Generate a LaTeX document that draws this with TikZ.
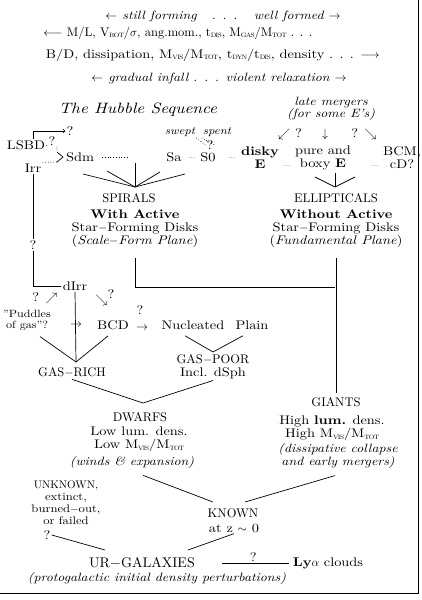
\documentclass[tikz,border=0pt]{standalone}
\usepackage{amsmath}
\usepackage{fontspec}
\usepackage{tikz}
\usetikzlibrary{calc}

\setmainfont{lmroman10}[Extension=.otf, UprightFont=*-regular, BoldFont=*-bold,
  ItalicFont=*-italic, BoldItalicFont=*-bolditalic, FakeStretch=1.15]
\newfontfamily\capsfont{lmroman10}[Extension=.otf, UprightFont=*-regular]
\newcommand{\lo}[1]{\ensuremath{_{\scriptscriptstyle\mathrm{#1}}}}
\tikzset{
  lab/.style={font=\fontsize{12.5}{13}\selectfont, align=center, inner sep=1pt},
  big/.style={font=\capsfont\fontsize{12.5}{12}\selectfont, align=center, inner sep=1pt},
  note/.style={font=\fontsize{12}{12.5}\selectfont\itshape, align=center, inner sep=1pt},
  dots/.style={font=\scriptsize, inner sep=1pt},
}

\begin{document}
\begin{tikzpicture}[x=1pt,y=-1pt,line width=0.7pt]
  \useasboundingbox (0,0) rectangle (421,600);
  \draw (0,593) -- (418,593) -- (418,0);

  % the four lines at the top
  \node[note] (forming) at (223,16) {$\leftarrow$ still forming \ \ . . . \ \ well formed $\rightarrow$};
  \node[lab,anchor=west,font=\capsfont\fontsize{12.5}{12}\selectfont] (props1) at (42,33) {$\longleftarrow$ M/L, V\lo{ROT}/$\sigma$, ang.mom., t\lo{DIS}, M\lo{GAS}/M\lo{TOT} . . .};
  \node[lab,anchor=east] (props2) at (381,55) {B/D, dissipation, M\lo{VIS}/M\lo{TOT}, t\lo{DYN}/t\lo{DIS}, density . . . $\longrightarrow$};
  \node[note] (infall) at (219,78) {$\leftarrow$ gradual infall . . . violent relaxation $\rightarrow$};

  % Hubble sequence
  \node[note,font=\fontsize{15}{15}\selectfont\itshape] (hubble) at (138,110) {The Hubble Sequence};
  \node[note] (late) at (331,109) {late mergers\\(for some E's)};
  \node[lab] (m1) at (290,134) {$\swarrow$ ?};
  \node[lab] (m2) at (325,134) {$\downarrow$};
  \node[lab] (m3) at (364,134) {? $\searrow$};
  \node[note,font=\fontsize{11}{11}\selectfont\itshape] (swept) at (180,132) {swept};
  \node[note,font=\fontsize{11}{11}\selectfont\itshape] (spent) at (217,132) {spent};
  \node[lab] (sq) at (210,145) {?};
  \draw[dotted] (swept.south east) -- (sq.west);
  \draw[dotted] (spent.south west) -- (sq.east);

  \node[lab] (Sdm) at (80,157) {Sdm};
  \node[lab] (Sa) at (174,157) {Sa};
  \node[lab] (S0) at (208,157) {S0};
  \node[lab,font=\fontsize{12.5}{13}\selectfont\bfseries] (disky) at (260,158) {disky\\E};
  \node[lab] (pure) at (323,158) {pure and\\boxy \textbf{E}};
  \node[lab] (bcm) at (402,158) {BCM,\\cD?};
  \draw[dotted,shorten <=7pt,shorten >=38pt] (Sdm) -- (Sa);
  \node[dots] (d1) at (192,158) {...};
  \node[dots] (d2) at (232,158) {...};
  \node[dots] (d3) at (287,166) {...};
  \node[dots] (d4) at (375,166) {...};

  \node[lab] (lsbd) at (26,145) {LSBD};
  \node[lab] (lq) at (52,141) {?};
  \node[lab] (irr) at (33,168) {Irr};
  \node[lab] (tq) at (70,131) {?};
  \coordinate (gt) at (63,157);
  \draw[->] ($(lsbd.north)+(7,0)$) |- (tq.west);
  \draw[dotted] (lsbd.east) -- (lq.south west);
  \draw ($(gt)+(-6,-5)$) -- (gt) -- ($(gt)+(-6,5)$);
  \draw[dotted] (lq.south east) -- ($(gt)+(-6,-5)$);
  \draw[dotted] (irr.north east) -- ($(gt)+(-6,5)$);

  % spirals and ellipticals
  \node[big] (spirals) at (129,198) {SPIRALS};
  \node[big] (ellipticals) at (336,198) {ELLIPTICALS};
  \coordinate (sp) at (135,187);
  \coordinate (el) at (335,187);
  \foreach \x/\y in {83/174,107/171,135/163,160/172,185/174}
    \draw (\x,\y) -- (sp);
  \foreach \x/\y in {315/177,335/173,355/177}
    \draw (\x,\y) -- (el);
  \node[lab] (withact) at (135,229) {\textbf{With Active}\\Star$-$Forming Disks\\(\textit{Scale$-$Form Plane})};
  \node[lab] (withoutact) at (336,229) {\textbf{Without Active}\\Star$-$Forming Disks\\(\textit{Fundamental Plane})};

  % dwarfs
  \node[lab] (dirr) at (75,286) {dIrr};
  \node[lab] (iq) at (33,245) {?};
  \draw (irr.south) -- (iq.north);
  \draw (iq.south) |- (dirr.west);
  \node[lab] (q1) at (45,298) {? $\nearrow$};
  \node[lab] (q2) at (105,298) {$\searrow$\raisebox{5pt}{?}};
  \node[lab,font=\fontsize{10.5}{11}\selectfont] (puddles) at (27,320) {"Puddles\\of gas"?};
  \node[lab] (pa) at (76,325) {$\rightarrow$};
  \node[lab] (bcd) at (113,325) {BCD};
  \node[lab] (bq) at (140,310) {?};
  \node[lab] (ba) at (142,328) {$\rightarrow$};
  \node[lab] (nuc) at (193,325) {Nucleated};
  \node[lab] (plain) at (252,325) {Plain};
  \node[big] (gasrich) at (72,373) {GAS$-$RICH};
  \node[lab] (gaspoor) at (213,367) {{\capsfont GAS$-$POOR}\\Incl. dSph};
  \coordinate (gr) at (76,362);
  \coordinate (gp) at (213,352);
  \draw (dirr.south) -- (gr);
  \draw ($(puddles.south)+(13,5)$) -- (gr);
  \draw ($(bcd.south)+(-5,5)$) -- (gr);
  \draw ($(nuc.south)+(-8,5)$) -- (gp) -- ($(plain.south)+(-9,5)$);

  \coordinate (dw) at (143,403);
  \draw (gasrich.south) -- (dw) -- (gaspoor.south);
  \node[big] (dwarfs) at (140,417) {DWARFS};
  \node[lab] (lowlum) at (139,439) {Low lum. dens.\\Low M\lo{VIS}/M\lo{TOT}};
  \node[note] (winds) at (132,462) {(winds \& expansion)};

  % giants
  \node[big] (giants) at (336,402) {GIANTS};
  \draw[shorten <=9pt] (withact.south) |- (el |- 0,287);
  \draw[shorten <=9pt,shorten >=3pt] (withoutact.south) -- (giants.north);
  \node[lab] (highlum) at (332,428) {High \textbf{lum.} dens.\\High M\lo{VIS}/M\lo{TOT}};
  \node[note] (dissip) at (338,456) {(dissipative collapse\\and early mergers)};

  % known and unknown
  \node[big] (known) at (233,513) {KNOWN};
  \node[lab] (atz) at (234,528) {at z $\sim$ 0};
  \coordinate (kl) at (213,502);
  \coordinate (kr) at (245,502);
  \draw ($(winds.south)+(11,6)$) -- (kl);
  \draw ($(dissip.south)+(-3,6)$) -- (kr);
  \node[lab,font=\fontsize{11}{12}\selectfont] (unknown) at (66,503) {{\capsfont UNKNOWN,}\\extinct,\\burned$-$out,\\or failed};
  \node[lab] (uq) at (47,535) {?};

  \node[big,font=\capsfont\fontsize{14}{12}\selectfont] (ur) at (142,563) {UR$-$GALAXIES};
  \node[note] (proto) at (157,578) {(protogalactic initial density perturbations)};
  \node[lab] (lya) at (328,563) {\textbf{Ly$\alpha$} clouds};
  \coordinate (ul) at (105,550);
  \coordinate (urr) at (188,550);
  \draw (uq.east) -- (ul);
  \draw (atz.south) -- (urr);
  \draw[shorten <=26pt,shorten >=3pt] (ur.east) -- node[lab,pos=0.6,above] (lq2) {?} (lya.west);
\end{tikzpicture}
\end{document}
